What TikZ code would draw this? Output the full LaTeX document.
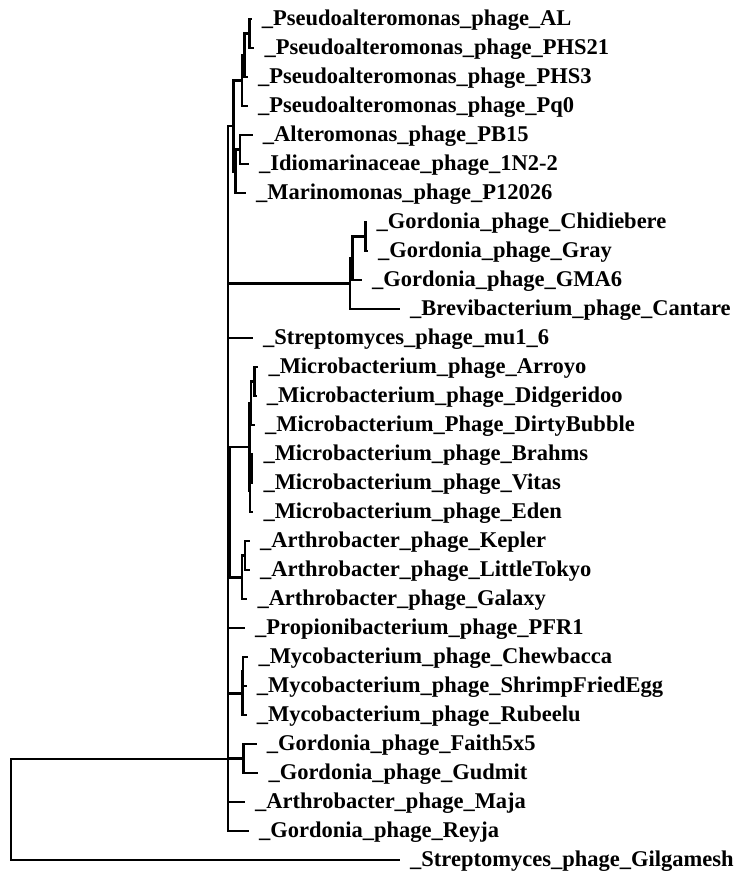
\documentclass[tikz,border=0pt]{standalone}
\usepackage{fontspec}
\setmainfont{Liberation Serif}
\usetikzlibrary{positioning}

\begin{document}
\begin{tikzpicture}[x=1pt,y=-1pt,
    branch/.style={line width=2.5pt},
    taxon/.style={inner sep=0pt,text height=15pt,text depth=2pt,
      font=\fontsize{22.5}{24}\selectfont\bfseries}
  ]
  \useasboundingbox (0,0) rectangle (737,873);
  % internal nodes
  \coordinate (root) at (11,809.5);
  \coordinate (main) at (228,759);
  \coordinate (nA)   at (233.5,125.9);
  \coordinate (nP0)  at (242,80.6);
  \coordinate (nP1)  at (244.5,55.25);
  \coordinate (nP2)  at (249.5,33.5);
  \coordinate (nAM)  at (235.5,171.25);
  \coordinate (nAlt) at (240,149.5);
  \coordinate (nG0)  at (350,283.6);
  \coordinate (nG1)  at (352.7,258.25);
  \coordinate (nG2)  at (365.7,236.5);
  \coordinate (nMA)  at (230,512);
  \coordinate (nMic) at (249.5,446.75);
  \coordinate (nM2)  at (251,403.25);
  \coordinate (nM1)  at (254.5,381.5);
  \coordinate (nM4)  at (250,490.25);
  \coordinate (nM3)  at (252,468.5);
  \coordinate (nArt0) at (242,577.25);
  \coordinate (nArt1) at (245,555.5);
  \coordinate (nMyc0) at (242.3,693.25);
  \coordinate (nMyc1) at (243,671.5);
  \coordinate (nFG)  at (243.3,758.5);
  % tips
  \coordinate (lAL)      at (251.7,19);
  \coordinate (lPHS21)   at (254.3,48);
  \coordinate (lPHS3)    at (248,77);
  \coordinate (lPq0)     at (248,106);
  \coordinate (lPB15)    at (252.7,135);
  \coordinate (lIdio)    at (249,164);
  \coordinate (lMarino)  at (246,193);
  \coordinate (lChid)    at (366.5,222);
  \coordinate (lGray)    at (368,251);
  \coordinate (lGMA6)    at (362,280);
  \coordinate (lCantare) at (400,309);
  \coordinate (lMu)      at (253,338);
  \coordinate (lArroyo)  at (258.3,367);
  \coordinate (lDidg)    at (256.7,396);
  \coordinate (lDirty)   at (255,425);
  \coordinate (lBrahms)  at (253.3,454);
  \coordinate (lVitas)   at (253.3,483);
  \coordinate (lEden)    at (253.3,512);
  \coordinate (lKepler)  at (250,541);
  \coordinate (lTokyo)   at (250,570);
  \coordinate (lGalaxy)  at (247.3,599);
  \coordinate (lPFR1)    at (245,628);
  \coordinate (lChew)    at (248.3,657);
  \coordinate (lShrimp)  at (246.7,686);
  \coordinate (lRubeelu) at (246.7,715);
  \coordinate (lFaith)   at (256.7,744);
  \coordinate (lGudmit)  at (258.3,773);
  \coordinate (lMaja)    at (245,802);
  \coordinate (lReyja)   at (249,831);
  \coordinate (lGilg)    at (400,860);

  % branches
  \draw[branch] (root) |- (main);
  \draw[branch] (root) |- (lGilg);
  \draw[branch] (main) |- (nA);
  \draw[branch] (nA) |- (nP0);
  \draw[branch] (nP0) |- (nP1);
  \draw[branch] (nP1) |- (nP2);
  \draw[branch] (nP2) |- (lAL);
  \draw[branch] (nP2) |- (lPHS21);
  \draw[branch] (nP1) |- (lPHS3);
  \draw[branch] (nP0) |- (lPq0);
  \draw[branch] (nA) |- (nAM);
  \draw[branch] (nAM) |- (nAlt);
  \draw[branch] (nAlt) |- (lPB15);
  \draw[branch] (nAlt) |- (lIdio);
  \draw[branch] (nAM) |- (lMarino);
  \draw[branch] (main) |- (nG0);
  \draw[branch] (nG0) |- (nG1);
  \draw[branch] (nG1) |- (nG2);
  \draw[branch] (nG2) |- (lChid);
  \draw[branch] (nG2) |- (lGray);
  \draw[branch] (nG1) |- (lGMA6);
  \draw[branch] (nG0) |- (lCantare);
  \draw[branch] (main) |- (lMu);
  \draw[branch] (main) |- (nMA);
  \draw[branch] (nMA) |- (nMic);
  \draw[branch] (nMic) |- (nM2);
  \draw[branch] (nM2) |- (nM1);
  \draw[branch] (nM1) |- (lArroyo);
  \draw[branch] (nM1) |- (lDidg);
  \draw[branch] (nM2) |- (lDirty);
  \draw[branch] (nMic) |- (nM4);
  \draw[branch] (nM4) |- (nM3);
  \draw[branch] (nM3) |- (lBrahms);
  \draw[branch] (nM3) |- (lVitas);
  \draw[branch] (nM4) |- (lEden);
  \draw[branch] (nMA) |- (nArt0);
  \draw[branch] (nArt0) |- (nArt1);
  \draw[branch] (nArt1) |- (lKepler);
  \draw[branch] (nArt1) |- (lTokyo);
  \draw[branch] (nArt0) |- (lGalaxy);
  \draw[branch] (main) |- (lPFR1);
  \draw[branch] (main) |- (nMyc0);
  \draw[branch] (nMyc0) |- (nMyc1);
  \draw[branch] (nMyc1) |- (lChew);
  \draw[branch] (nMyc1) |- (lShrimp);
  \draw[branch] (nMyc0) |- (lRubeelu);
  \draw[branch] (main) |- (nFG);
  \draw[branch] (nFG) |- (lFaith);
  \draw[branch] (nFG) |- (lGudmit);
  \draw[branch] (main) |- (lMaja);
  \draw[branch] (main) |- (lReyja);

  % tip labels
  \node[taxon,right=10pt of lAL] (tAL) {\_Pseudoalteromonas\_phage\_AL};
  \node[taxon,right=10pt of lPHS21] (tPHS21) {\_Pseudoalteromonas\_phage\_PHS21};
  \node[taxon,right=10pt of lPHS3] (tPHS3) {\_Pseudoalteromonas\_phage\_PHS3};
  \node[taxon,right=10pt of lPq0] (tPq0) {\_Pseudoalteromonas\_phage\_Pq0};
  \node[taxon,right=10pt of lPB15] (tPB15) {\_Alteromonas\_phage\_PB15};
  \node[taxon,right=10pt of lIdio] (tIdio) {\_Idiomarinaceae\_phage\_1N2-2};
  \node[taxon,right=10pt of lMarino] (tMarino) {\_Marinomonas\_phage\_P12026};
  \node[taxon,right=10pt of lChid] (tChid) {\_Gordonia\_phage\_Chidiebere};
  \node[taxon,right=10pt of lGray] (tGray) {\_Gordonia\_phage\_Gray};
  \node[taxon,right=10pt of lGMA6] (tGMA6) {\_Gordonia\_phage\_GMA6};
  \node[taxon,right=10pt of lCantare] (tCantare) {\_Brevibacterium\_phage\_Cantare};
  \node[taxon,right=10pt of lMu] (tMu) {\_Streptomyces\_phage\_mu1\_6};
  \node[taxon,right=10pt of lArroyo] (tArroyo) {\_Microbacterium\_phage\_Arroyo};
  \node[taxon,right=10pt of lDidg] (tDidg) {\_Microbacterium\_phage\_Didgeridoo};
  \node[taxon,right=10pt of lDirty] (tDirty) {\_Microbacterium\_Phage\_DirtyBubble};
  \node[taxon,right=10pt of lBrahms] (tBrahms) {\_Microbacterium\_phage\_Brahms};
  \node[taxon,right=10pt of lVitas] (tVitas) {\_Microbacterium\_phage\_Vitas};
  \node[taxon,right=10pt of lEden] (tEden) {\_Microbacterium\_phage\_Eden};
  \node[taxon,right=10pt of lKepler] (tKepler) {\_Arthrobacter\_phage\_Kepler};
  \node[taxon,right=10pt of lTokyo] (tTokyo) {\_Arthrobacter\_phage\_LittleTokyo};
  \node[taxon,right=10pt of lGalaxy] (tGalaxy) {\_Arthrobacter\_phage\_Galaxy};
  \node[taxon,right=10pt of lPFR1] (tPFR1) {\_Propionibacterium\_phage\_PFR1};
  \node[taxon,right=10pt of lChew] (tChew) {\_Mycobacterium\_phage\_Chewbacca};
  \node[taxon,right=10pt of lShrimp] (tShrimp) {\_Mycobacterium\_phage\_ShrimpFriedEgg};
  \node[taxon,right=10pt of lRubeelu] (tRubeelu) {\_Mycobacterium\_phage\_Rubeelu};
  \node[taxon,right=10pt of lFaith] (tFaith) {\_Gordonia\_phage\_Faith5x5};
  \node[taxon,right=10pt of lGudmit] (tGudmit) {\_Gordonia\_phage\_Gudmit};
  \node[taxon,right=10pt of lMaja] (tMaja) {\_Arthrobacter\_phage\_Maja};
  \node[taxon,right=10pt of lReyja] (tReyja) {\_Gordonia\_phage\_Reyja};
  \node[taxon,right=10pt of lGilg] (tGilg) {\_Streptomyces\_phage\_Gilgamesh};
\end{tikzpicture}
\end{document}
